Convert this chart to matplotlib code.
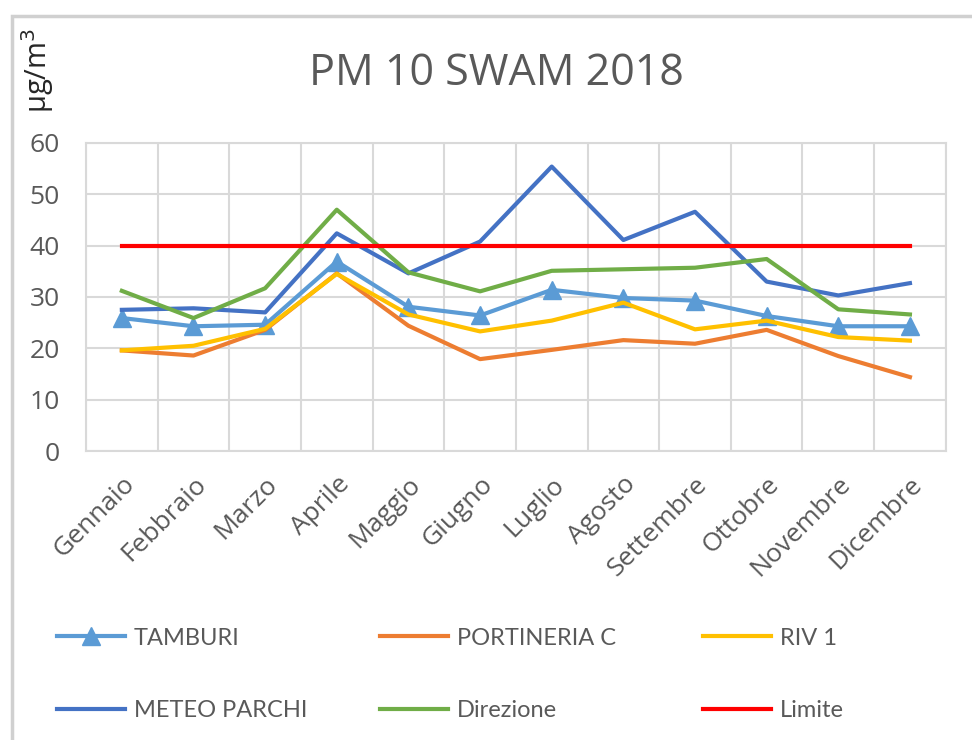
import matplotlib.pyplot as plt
from matplotlib.patches import Rectangle

# data
mesi = ["Gennaio", "Febbraio", "Marzo", "Aprile", "Maggio", "Giugno",
        "Luglio", "Agosto", "Settembre", "Ottobre", "Novembre", "Dicembre"]
tamburi = [25.9, 24.3, 24.6, 36.9, 28.1, 26.4, 31.4, 29.8, 29.3, 26.3, 24.3, 24.3]
portineria_c = [19.6, 18.6, 23.6, 34.6, 24.4, 17.9, 19.7, 21.6, 20.9, 23.6, 18.5, 14.4]
riv_1 = [19.6, 20.5, 23.8, 34.5, 26.6, 23.3, 25.4, 28.9, 23.7, 25.4, 22.2, 21.5]
meteo_parchi = [27.5, 27.8, 27.0, 42.4, 34.6, 40.8, 55.4, 41.1, 46.6, 33.0, 30.3, 32.7]
direzione = [31.2, 25.9, 31.7, 47.0, 34.8, 31.1, 35.1, 35.4, 35.7, 37.4, 27.6, 26.6]
limite = [40] * 12

plt.rcParams['font.family'] = ['Open Sans', 'DejaVu Sans']
grigio = '#595959'
font_legenda = ['Liberation Sans Narrow', 'Lato', 'DejaVu Sans']

fig = plt.figure(figsize=(9.72, 7.4), dpi=100)
ax = fig.add_axes([0.0885, 0.3905, 0.8845, 0.4163])

x = range(len(mesi))
lw = 3.0
l1, = ax.plot(x, tamburi, color='#5B9BD5', lw=lw, marker='^', markersize=13, label='TAMBURI')
l2, = ax.plot(x, portineria_c, color='#ED7D31', lw=lw, label='PORTINERIA C')
l3, = ax.plot(x, riv_1, color='#FFC000', lw=lw, label='RIV 1')
l4, = ax.plot(x, meteo_parchi, color='#4472C4', lw=lw, label='METEO PARCHI')
l5, = ax.plot(x, direzione, color='#70AD47', lw=lw, label='Direzione')
l6, = ax.plot(x, limite, color='#FF0000', lw=lw, label='Limite')

ax.set_xlim(-0.5, 11.5)
ax.set_ylim(0, 60)
ax.set_yticks(range(0, 61, 10))
ax.set_xticks(list(x))
ax.set_xticklabels(mesi, rotation=45, ha='right', rotation_mode='anchor')
ax.set_xticks([i + 0.5 for i in range(-1, 12)], minor=True)
ax.grid(True, which='major', axis='y', color='#D9D9D9', lw=1.5)
ax.grid(True, which='minor', axis='x', color='#D9D9D9', lw=1.5)
ax.tick_params(which='both', length=0, colors=grigio, labelsize=19)
ax.tick_params(axis='y', pad=19)
ax.tick_params(axis='x', pad=15)
for s in ax.spines.values():
    s.set_color('#D9D9D9')
    s.set_linewidth(1.5)

fig.text(0.511, 0.9, 'PM 10 SWAM 2018', ha='center', va='center',
         fontsize=31, color=grigio)
fig.text(0.039, 0.905, 'µg/m$^3$', rotation=90, ha='center', va='center',
         fontsize=21, color='#262626')

# legenda: tre colonne, due righe
colonne = [(l1, l4), (l2, l5), (l3, l6)]
x_col = [57, 380, 703]
for (a, b), xc in zip(colonne, x_col):
    leg = fig.legend([a, b], [a.get_label(), b.get_label()], loc='center left',
                     bbox_to_anchor=(xc / 972, 1 - 674.5 / 740),
                     frameon=False, borderpad=0, borderaxespad=0,
                     handlelength=2.9, handletextpad=0.35, labelspacing=2.2,
                     prop={'family': font_legenda, 'size': 17})
    for t in leg.get_texts():
        t.set_color(grigio)

# cornice del grafico
fig.patches.append(Rectangle((0.012, -0.02), 1.1, 0.998, transform=fig.transFigure,
                             fill=False, edgecolor='#D0D0D0', lw=2.5))

fig.savefig('out.png', dpi=100)
